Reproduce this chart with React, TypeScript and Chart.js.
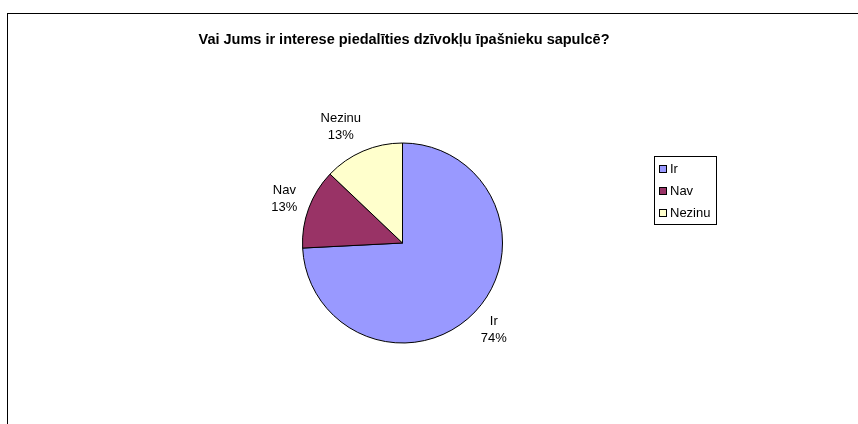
import React, { useEffect, useRef } from "react";
import { Chart, registerables } from "chart.js";

Chart.register(...registerables);

const titleText = "Vai Jums ir interese piedalīties dzīvokļu īpašnieku sapulcē?";
const categories = ["Ir", "Nav", "Nezinu"];
const counts = [23, 4, 4];
const percentLabels = ["74%", "13%", "13%"];
const sliceColors = ["#9999FF", "#993366", "#FFFFCC"];

const FONT = "Arial, 'Liberation Sans', sans-serif";

const decorPlugin = {
  id: "decor",
  beforeDraw(chart: any) {
    const ctx = chart.ctx;
    ctx.save();
    ctx.fillStyle = "#ffffff";
    ctx.fillRect(0, 0, chart.width, chart.height);
    ctx.strokeStyle = "#000000";
    ctx.lineWidth = 1;
    ctx.strokeRect(7.5, 13.5, chart.width + 20, chart.height + 20);
    ctx.fillStyle = "#000000";
    ctx.font = "bold 14.5px " + FONT;
    ctx.textAlign = "center";
    ctx.textBaseline = "middle";
    ctx.fillText(titleText, 404, 40);
    ctx.restore();
  },
  afterDraw(chart: any) {
    const ctx = chart.ctx;
    const meta = chart.getDatasetMeta(0);
    ctx.save();
    ctx.font = "13px " + FONT;
    ctx.fillStyle = "#000000";
    ctx.textAlign = "center";
    ctx.textBaseline = "middle";
    meta.data.forEach((arc: any, i: number) => {
      const { x, y, startAngle, endAngle, outerRadius } = arc.getProps(
        ["x", "y", "startAngle", "endAngle", "outerRadius"],
        true
      );
      const mid = (startAngle + endAngle) / 2;
      const d = outerRadius + 26;
      const lx = x + Math.cos(mid) * d - (Math.sin(mid) < -0.8 ? 12 : 0);
      const ly = y + Math.sin(mid) * d;
      ctx.fillText(categories[i], lx, ly - 8.5);
      ctx.fillText(percentLabels[i], lx, ly + 8.5);
    });
    // legend
    const bx = 654.5, by = 156.5, bw = 62, bh = 68;
    ctx.strokeStyle = "#000000";
    ctx.lineWidth = 1;
    ctx.strokeRect(bx, by, bw, bh);
    ctx.textAlign = "left";
    categories.forEach((c, i) => {
      const cy = 169 + i * 22;
      ctx.fillStyle = sliceColors[i];
      ctx.fillRect(659, cy - 4, 7, 7);
      ctx.strokeStyle = "#000000";
      ctx.strokeRect(659.5, cy - 3.5, 7, 7);
      ctx.fillStyle = "#000000";
      ctx.fillText(c, 670, cy);
    });
    ctx.restore();
  },
};

export default function App() {
  const ref = useRef<HTMLCanvasElement>(null);
  useEffect(() => {
    document.body.style.margin = "0";
    if (!ref.current) return;
    const chart = new Chart(ref.current, {
      type: "pie",
      data: {
        labels: categories,
        datasets: [
          {
            data: counts,
            backgroundColor: sliceColors,
            borderColor: "#000000",
            borderWidth: 1,
          },
        ],
      },
      options: {
        responsive: false,
        animation: false,
        layout: { padding: { left: 302, right: 355, top: 142, bottom: 80 } },
        plugins: {
          legend: { display: false },
          tooltip: { enabled: false },
          title: { display: false },
        },
      },
      plugins: [decorPlugin],
    });
    return () => chart.destroy();
  }, []);
  return (
    <div style={{ position: "absolute", left: 0, top: 0, width: 858, height: 424 }}>
      <canvas ref={ref} width={858} height={424} />
    </div>
  );
}
